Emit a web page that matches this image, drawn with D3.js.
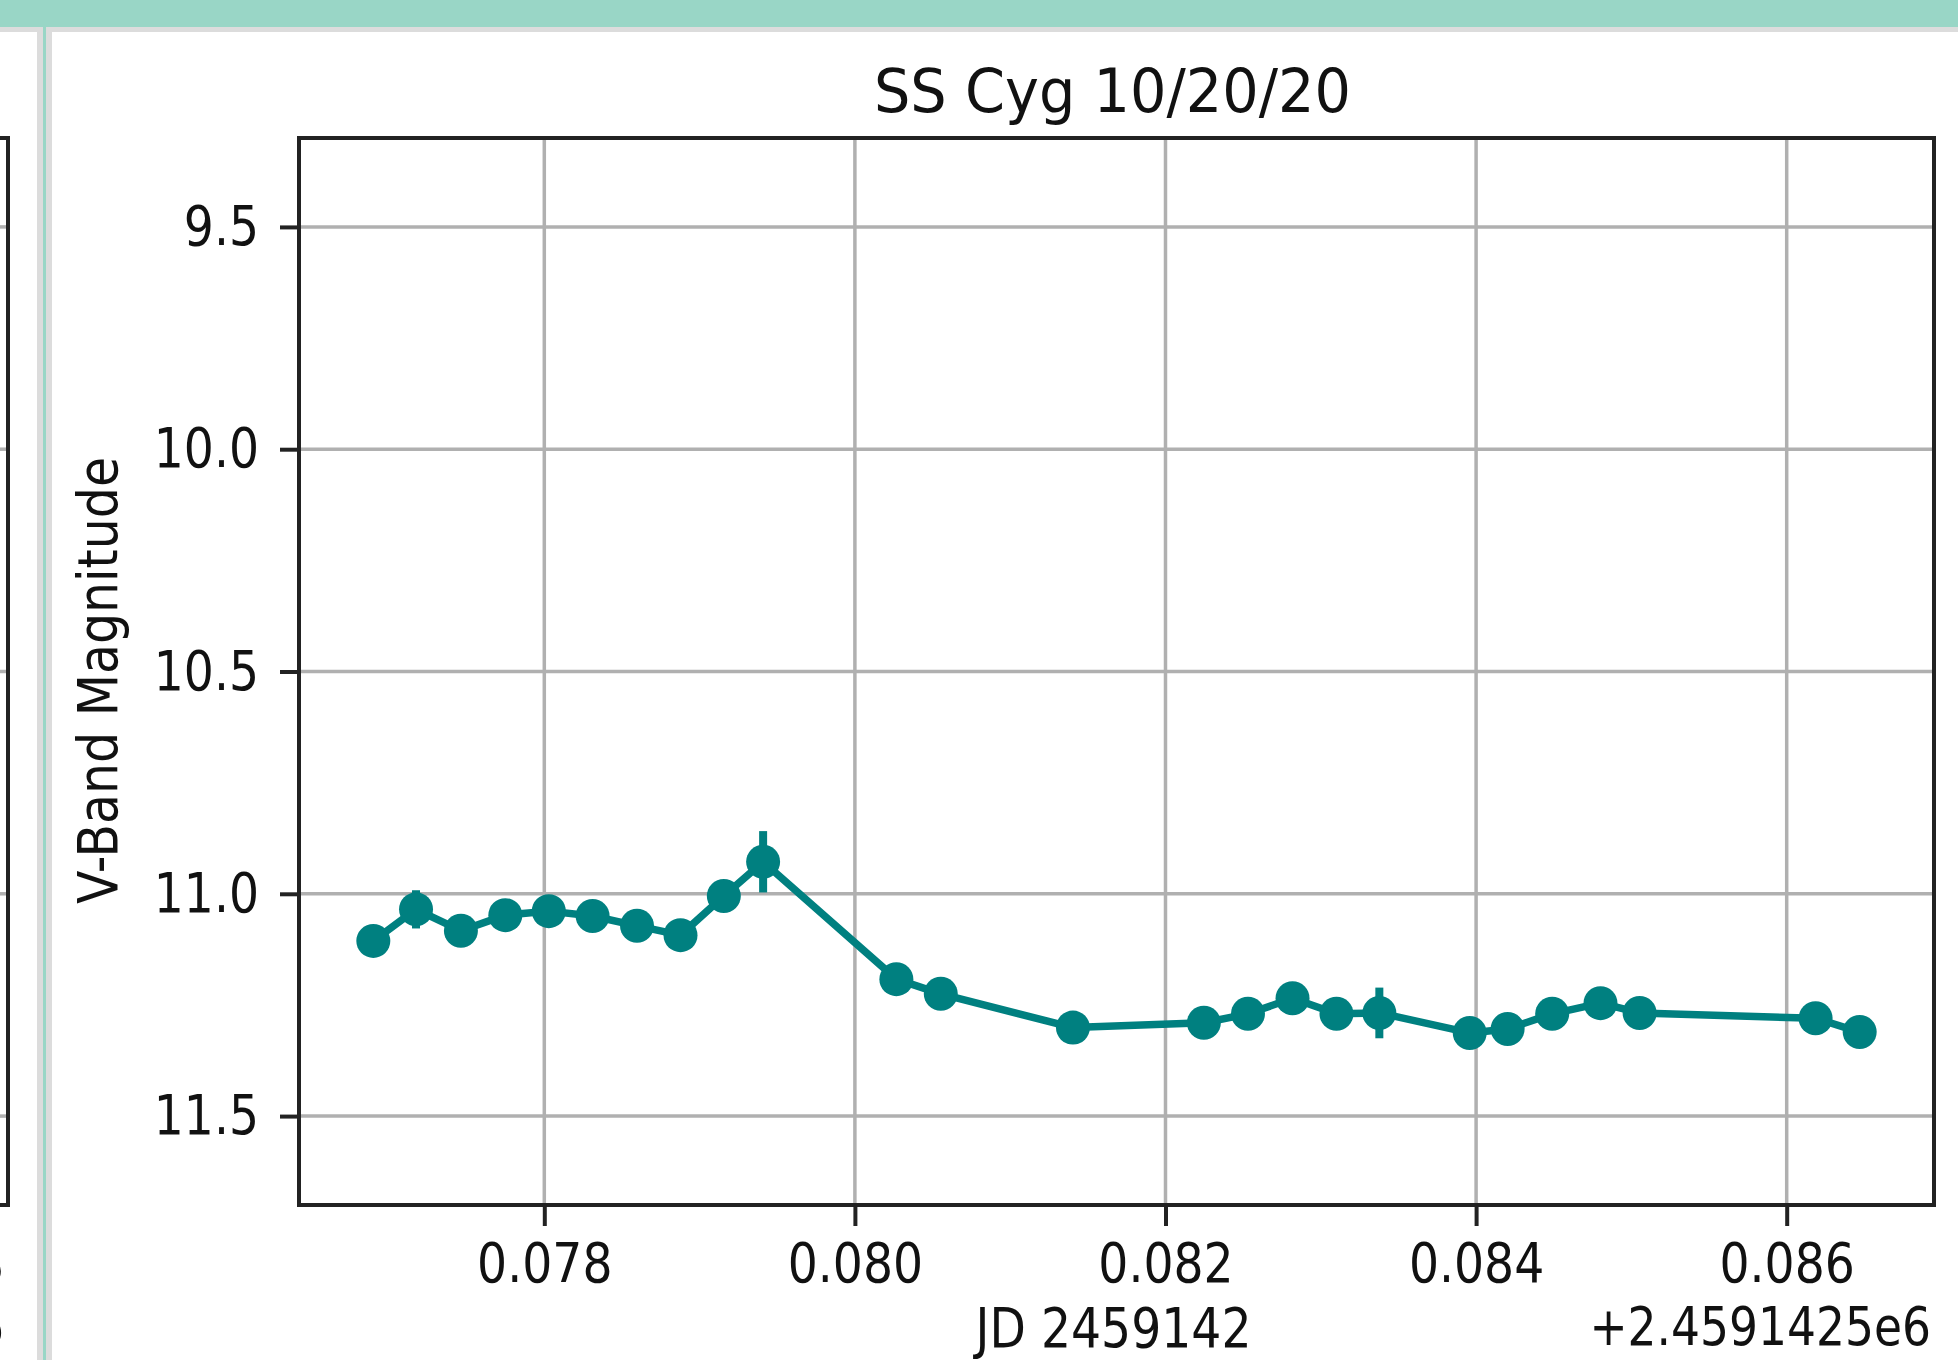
<!DOCTYPE html>
<html>
<head>
<meta charset="utf-8">
<script src="https://cdn.jsdelivr.net/npm/d3@7"></script>
<style>
  html, body { margin: 0; padding: 0; background: #fff; }
  svg { display: block; }
  text { font-family: "DejaVu Sans", sans-serif; fill: #111; }
</style>
</head>
<body>
<svg id="chart" width="1958" height="1360"></svg>
<script>
// JD - 2459142.5
const jdOffset = [0.076899, 0.077174, 0.077463, 0.077749, 0.078029, 0.078311, 0.078597, 0.078877, 0.079156, 0.079409,
                  0.080267, 0.080553, 0.081404, 0.082247, 0.082531, 0.082818, 0.083101, 0.083377, 0.083959, 0.084203,
                  0.084490, 0.084801, 0.085053, 0.086186, 0.086470];
const vMag = [11.106, 11.035, 11.083, 11.048, 11.039, 11.050, 11.072, 11.093, 11.005, 10.928,
              11.192, 11.225, 11.301, 11.290, 11.270, 11.235, 11.270, 11.268, 11.313, 11.304,
              11.270, 11.246, 11.268, 11.280, 11.311];
const vErr = [0.025, 0.043, 0.022, 0.024, 0.020, 0.022, 0.025, 0.023, 0.030, 0.069,
              0.026, 0.024, 0.022, 0.025, 0.027, 0.024, 0.026, 0.057, 0.028, 0.024,
              0.025, 0.022, 0.026, 0.024, 0.027];
const xTicks = [0.078, 0.080, 0.082, 0.084, 0.086];
const yTicks = [9.5, 10.0, 10.5, 11.0, 11.5];
const yLimits = [9.3, 11.7];
const titleText = "SS Cyg 10/20/20";
const xLabelText = "JD 2459142";
const yLabelText = "V-Band Magnitude";
const offsetText = "+2.4591425e6";

const plotLeft = 299, plotRight = 1934, plotTop = 138, plotBottom = 1205;
const teal = "#008080";
const squeeze = 0.86;

const svg = d3.select("#chart");

// page chrome: header band + separator
svg.append("rect").attr("x", 0).attr("y", 0).attr("width", 1958).attr("height", 27).attr("fill", "#99d6c6");
svg.append("rect").attr("x", 0).attr("y", 27).attr("width", 1958).attr("height", 5).attr("fill", "#dcdcdc");
svg.append("rect").attr("x", 37).attr("y", 27).attr("width", 15).attr("height", 1333).attr("fill", "#dcdcdc");
svg.append("rect").attr("x", 43).attr("y", 27).attr("width", 3).attr("height", 1333).attr("fill", "#99d6c6");

const x = d3.scaleLinear()
    .domain((() => {
        const [a, b] = d3.extent(jdOffset);
        const m = (b - a) * 0.05;
        return [a - m, b + m];
    })())
    .range([plotLeft, plotRight]);

const y = d3.scaleLinear()
    .domain(yLimits)
    .range([plotTop, plotBottom]);

// left neighbour panel (cut off)
svg.selectAll(".lgrid")
   .data(yTicks)
   .enter()
   .append("line")
   .attr("class", "lgrid")
   .attr("x1", 0).attr("x2", 8)
   .attr("y1", d => y(d)).attr("y2", d => y(d))
   .attr("stroke", "#b0b0b0")
   .attr("stroke-width", 3.5);

svg.append("path")
   .attr("d", `M0,${plotTop} H8 V${plotBottom} H0`)
   .attr("fill", "none")
   .attr("stroke", "#222")
   .attr("stroke-width", 4);

svg.append("text")
   .attr("transform", `translate(4,1282) scale(${squeeze},1)`)
   .attr("text-anchor", "end")
   .style("font-size", "55px")
   .text("0.088");

svg.append("text")
   .attr("transform", `translate(4,1345) scale(${squeeze},1)`)
   .attr("text-anchor", "end")
   .style("font-size", "53px")
   .text("2.4591426e6");

// grid
svg.selectAll(".xgrid")
   .data(xTicks)
   .enter()
   .append("line")
   .attr("class", "xgrid")
   .attr("x1", d => x(d)).attr("x2", d => x(d))
   .attr("y1", plotTop).attr("y2", plotBottom)
   .attr("stroke", "#b0b0b0")
   .attr("stroke-width", 3.5);

svg.selectAll(".ygrid")
   .data(yTicks)
   .enter()
   .append("line")
   .attr("class", "ygrid")
   .attr("x1", plotLeft).attr("x2", plotRight)
   .attr("y1", d => y(d)).attr("y2", d => y(d))
   .attr("stroke", "#b0b0b0")
   .attr("stroke-width", 3.5);

// data
const pts = jdOffset.map((t, i) => ({ t: t, m: vMag[i], e: vErr[i] }));

svg.selectAll(".err")
   .data(pts)
   .enter()
   .append("line")
   .attr("class", "err")
   .attr("x1", d => x(d.t)).attr("x2", d => x(d.t))
   .attr("y1", d => y(d.m - d.e)).attr("y2", d => y(d.m + d.e))
   .attr("stroke", teal)
   .attr("stroke-width", 8);

svg.append("path")
   .datum(pts)
   .attr("fill", "none")
   .attr("stroke", teal)
   .attr("stroke-width", 7.5)
   .attr("stroke-linejoin", "round")
   .attr("d", d3.line().x(d => x(d.t)).y(d => y(d.m)));

svg.selectAll(".dot")
   .data(pts)
   .enter()
   .append("circle")
   .attr("class", "dot")
   .attr("cx", d => x(d.t))
   .attr("cy", d => y(d.m))
   .attr("r", 17)
   .attr("fill", teal);

// axes
const xAxis = svg.append("g")
   .attr("transform", `translate(0,${plotBottom})`)
   .call(d3.axisBottom(x).tickValues(xTicks).tickFormat(d3.format(".3f")).tickSize(21).tickPadding(17));

const yAxis = svg.append("g")
   .attr("transform", `translate(${plotLeft},0)`)
   .call(d3.axisLeft(y).tickValues(yTicks).tickFormat(d3.format(".1f")).tickSize(19).tickPadding(27));

[xAxis, yAxis].forEach(g => {
    g.select(".domain").remove();
    g.selectAll(".tick line").attr("stroke", "#222").attr("stroke-width", 4);
    g.selectAll(".tick text")
     .attr("fill", "#111")
     .style("font-family", "\"DejaVu Sans\", sans-serif")
     .style("font-size", "55px");
});

xAxis.selectAll(".tick text").attr("transform", `scale(${squeeze},1)`);
yAxis.selectAll(".tick text")
     .attr("x", -40 / squeeze)
     .attr("transform", `scale(${squeeze},1)`);

// frame
svg.append("rect")
   .attr("x", plotLeft).attr("y", plotTop)
   .attr("width", plotRight - plotLeft).attr("height", plotBottom - plotTop)
   .attr("fill", "none")
   .attr("stroke", "#222")
   .attr("stroke-width", 4);

// labels
svg.append("text")
   .attr("transform", `translate(${(plotLeft + plotRight) / 2 - 4},112) scale(0.94,1)`)
   .attr("text-anchor", "middle")
   .style("font-size", "61px")
   .text(titleText);

svg.append("text")
   .attr("transform", `translate(${(plotLeft + plotRight) / 2 - 3},1347) scale(${squeeze},1)`)
   .attr("text-anchor", "middle")
   .style("font-size", "55px")
   .text(xLabelText);

svg.append("text")
   .attr("transform", `translate(${plotRight - 3},1345) scale(${squeeze},1)`)
   .attr("text-anchor", "end")
   .style("font-size", "53px")
   .text(offsetText);

svg.append("text")
   .attr("transform", `translate(117,${(plotTop + plotBottom) / 2 + 9}) rotate(-90) scale(0.89,1)`)
   .attr("text-anchor", "middle")
   .style("font-size", "55px")
   .text(yLabelText);
</script>
</body>
</html>
